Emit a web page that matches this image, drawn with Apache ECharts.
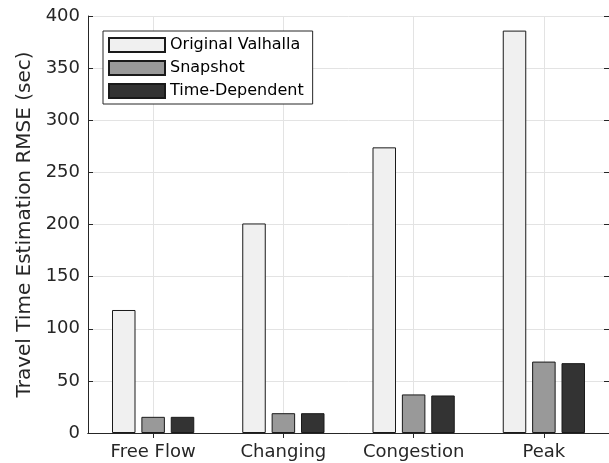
<!DOCTYPE html>
<html>
<head>
<meta charset="utf-8">
<script src="https://cdn.jsdelivr.net/npm/echarts@6/dist/echarts.min.js"></script>
<style>html,body{margin:0;padding:0;background:#fff;}#c{width:609px;height:463px;}</style>
</head>
<body>
<div id="c"></div>
<script>
const categories = ['Free Flow', 'Changing', 'Congestion', 'Peak'];
const seriesNames = ['Original Valhalla', 'Snapshot', 'Time-Dependent'];
const originalValhalla = [118, 201, 274, 386];
const snapshot = [15.5, 19, 37, 68.5];
const timeDependent = [15.5, 19, 36, 67];
const yTicks = [0, 50, 100, 150, 200, 250, 300, 350, 400];

const FONT = 'DejaVu Sans';
const TXT = '#262626';
const GRID = '#e3e3e3';
const colors = ['#f0f0f0', '#999999', '#333333'];
const values = [originalValhalla, snapshot, timeDependent];

const chart = echarts.init(document.getElementById('c'), null, {renderer: 'canvas'});
const series = values.map((v, i) => ({
  name: seriesNames[i],
  type: 'bar',
  data: v,
  barWidth: 23.5,
  barGap: '25%',
  z: 3,
  itemStyle: {color: colors[i], borderColor: '#1a1a1a', borderWidth: 1},
  emphasis: {disabled: true}
}));

chart.setOption({
  animation: false,
  backgroundColor: '#fff',
  textStyle: {fontFamily: FONT},
  grid: {left: 88, top: 16, bottom: 30, right: -3, containLabel: false},
  legend: {
    orient: 'vertical', left: 103, top: 31,
    padding: [6, 9, 5, 5],
    itemWidth: 56, itemHeight: 14, itemGap: 7,
    borderColor: TXT, borderWidth: 1, backgroundColor: '#fff',
    icon: 'rect',
    textStyle: {fontFamily: FONT, fontSize: 16, color: '#000'},
    data: seriesNames
  },
  xAxis: [{
    type: 'category', data: categories, position: 'bottom',
    axisLine: {lineStyle: {color: TXT, width: 1}},
    axisTick: {show: true, inside: true, alignWithLabel: true, length: 5, lineStyle: {color: TXT}},
    axisLabel: {fontFamily: FONT, fontSize: 18, color: TXT, margin: 10, interval: 0},
    splitLine: {show: true, alignWithLabel: true, interval: 0, lineStyle: {color: GRID, width: 1}}
  }, {
    type: 'category', data: categories, position: 'top',
    axisLine: {lineStyle: {color: TXT, width: 1}},
    axisTick: {show: true, inside: true, alignWithLabel: true, length: 5, lineStyle: {color: TXT}},
    axisLabel: {show: false},
    splitLine: {show: false}
  }],
  yAxis: [{
    type: 'value', min: 0, max: 400, interval: 50,
    name: 'Travel Time Estimation RMSE (sec)',
    nameLocation: 'middle', nameGap: 52,
    nameTextStyle: {fontFamily: FONT, fontSize: 20, color: TXT},
    axisLine: {show: true, lineStyle: {color: TXT, width: 1}},
    axisTick: {show: true, inside: true, length: 5, lineStyle: {color: TXT}},
    axisLabel: {fontFamily: FONT, fontSize: 18, color: TXT, margin: 8,
      formatter: v => yTicks.includes(v) ? String(v) : ''},
    splitLine: {show: true, lineStyle: {color: GRID, width: 1}}
  }, {
    type: 'value', min: 0, max: 400, interval: 50, position: 'right',
    axisLine: {show: true, lineStyle: {color: TXT, width: 1}},
    axisTick: {show: true, inside: true, length: 5, lineStyle: {color: TXT}},
    axisLabel: {show: false},
    splitLine: {show: false}
  }],
  series: series
});
</script>
</body>
</html>
